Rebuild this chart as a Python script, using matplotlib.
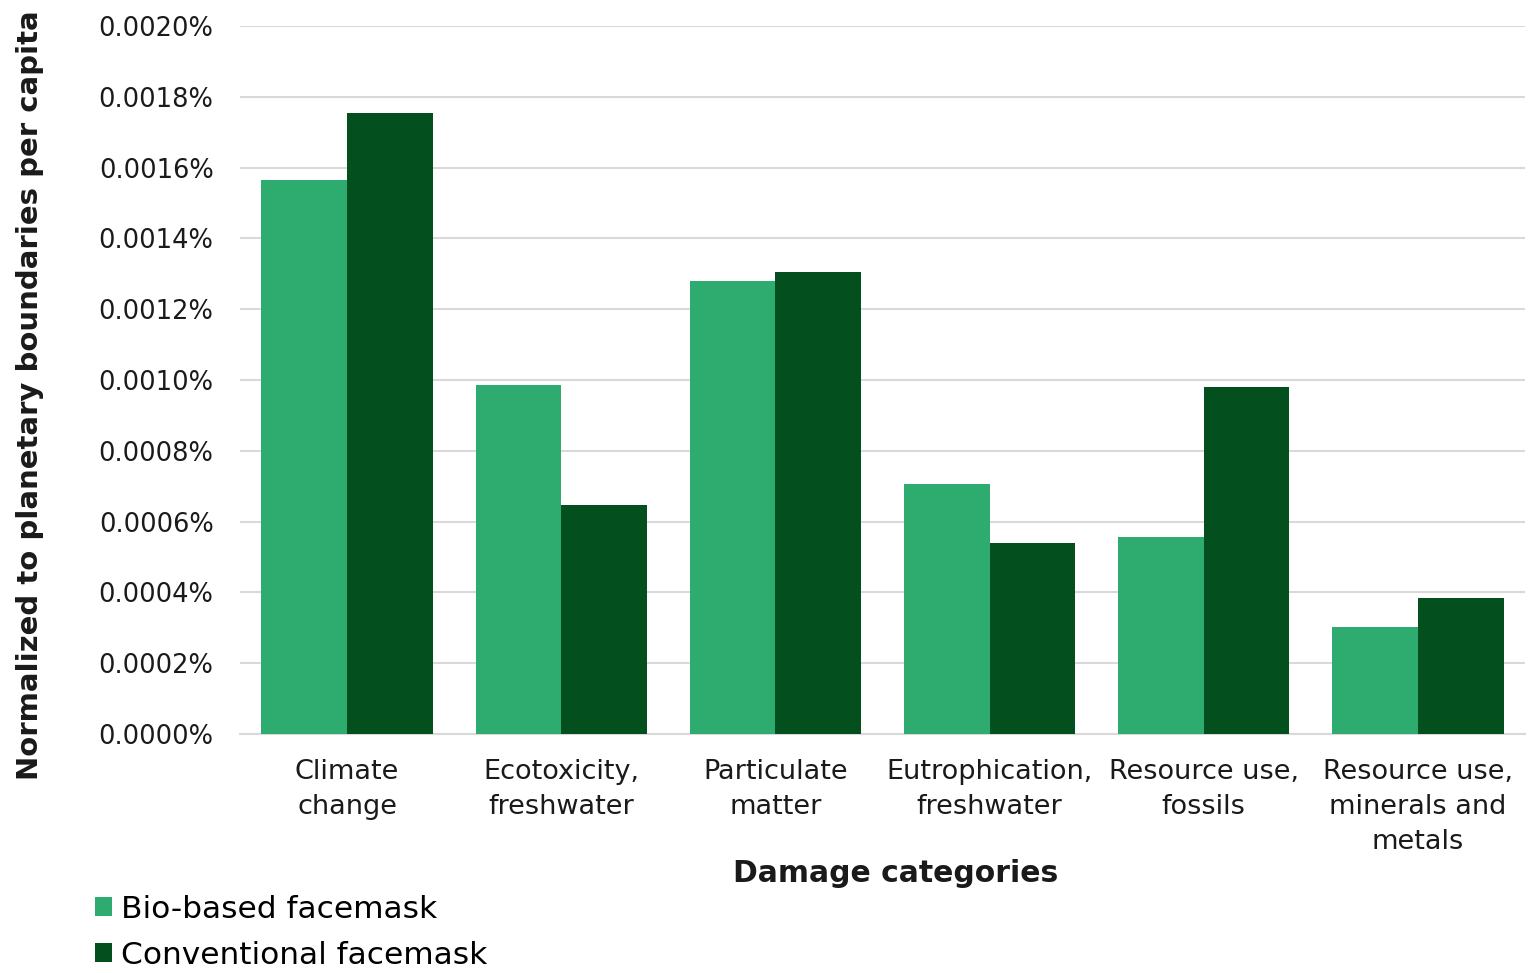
import matplotlib
matplotlib.use("Agg")
import matplotlib.pyplot as plt
import numpy as np
from matplotlib.ticker import FuncFormatter

plt.rcParams['font.family'] = ['DejaVu Sans']

categories = ["Climate\nchange", "Ecotoxicity,\nfreshwater", "Particulate\nmatter",
              "Eutrophication,\nfreshwater", "Resource use,\nfossils",
              "Resource use,\nminerals and\nmetals"]
bio_based = [0.001565, 0.000986, 0.001280, 0.000706, 0.000556, 0.000302]
conventional = [0.001754, 0.000647, 0.001305, 0.000540, 0.000980, 0.000384]
series_names = ["Bio-based facemask", "Conventional facemask"]
y_ticks = [0.0000, 0.0002, 0.0004, 0.0006, 0.0008, 0.0010, 0.0012, 0.0014,
           0.0016, 0.0018, 0.0020]

light_green = "#2EAB6E"
dark_green = "#03501E"
text_color = "#1a1a1a"

fig = plt.figure(figsize=(15.32, 9.73), dpi=100)
ax = fig.add_axes([240/1532, 1-734/973, (1525-240)/1532, (734-26)/973])

x = np.arange(len(categories))
w = 0.4
ax.bar(x - w/2, bio_based, w, color=light_green, label=series_names[0], zorder=3)
ax.bar(x + w/2, conventional, w, color=dark_green, label=series_names[1], zorder=3)

ax.set_xlim(-0.5, len(categories) - 0.5)
ax.set_ylim(0, 0.0020)
ax.set_yticks(y_ticks)
ax.yaxis.set_major_formatter(FuncFormatter(lambda v, p: f"{v:.4f}%"))
ax.grid(axis='y', color='#D9D9D9', linewidth=1.5, zorder=0)
for s in ['top', 'right', 'left']:
    ax.spines[s].set_visible(False)
ax.spines['bottom'].set_color('#D9D9D9')
ax.spines['bottom'].set_linewidth(1.5)
ax.tick_params(axis='both', length=0, colors=text_color)
ax.tick_params(axis='y', pad=19, labelsize=18.5)
ax.tick_params(axis='x', pad=18, labelsize=19.5)
ax.set_xticks(x)
ax.set_xticklabels(categories, linespacing=1.45)

fig.text(896/1532, 1-874/973, "Damage categories", ha='center', va='center',
         fontsize=21.5, fontweight='bold', color=text_color)
fig.text(30/1532, 1-395/973, "Normalized to planetary boundaries per capita",
         rotation=90, ha='center', va='center', fontsize=21, fontweight='bold',
         color=text_color)

handles, labels = ax.get_legend_handles_labels()
fig.legend(handles, labels, loc='upper left', bbox_to_anchor=(82/1532, 1-882/973),
           frameon=False, fontsize=22.5, handlelength=0.55, handleheight=0.55,
           handletextpad=0.3, labelspacing=0.55, borderaxespad=0)

fig.savefig("out.png", dpi=100)
